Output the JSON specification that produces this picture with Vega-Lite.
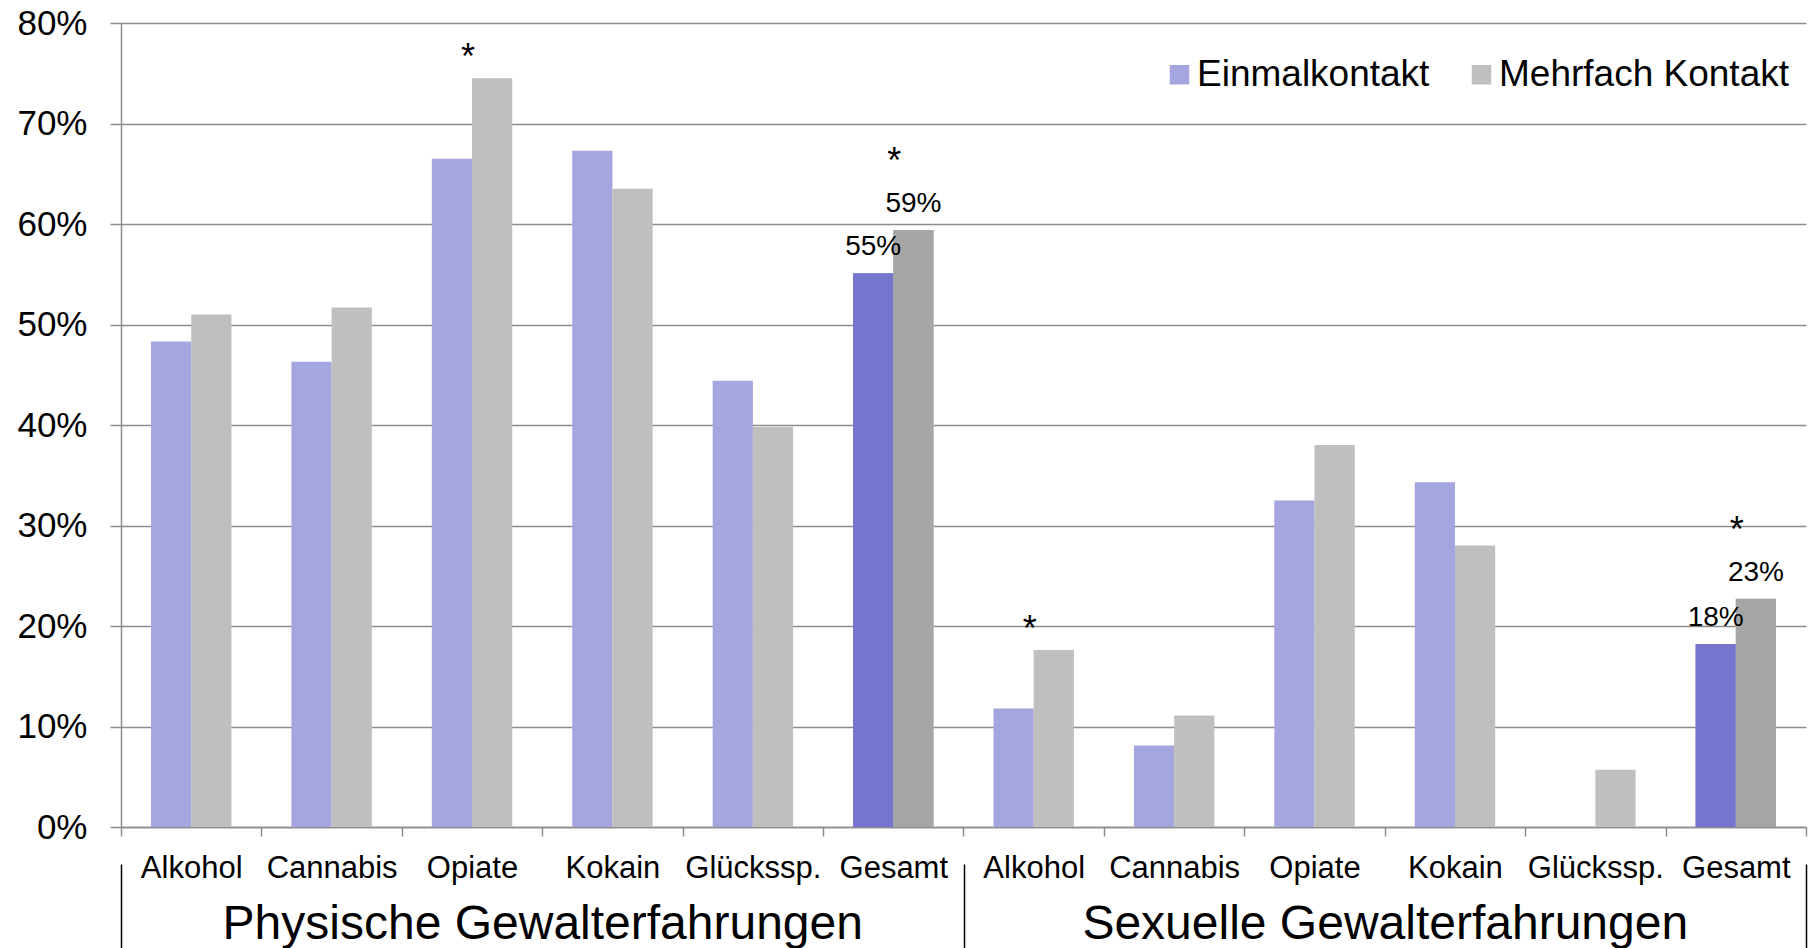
{
  "$schema": "https://vega.github.io/schema/vega-lite/v6.json",
  "width": 1685,
  "height": 804,
  "autosize": {"type": "none"},
  "padding": {"left": 121, "top": 23, "right": 10, "bottom": 121},
  "background": "white",
  "config": {"font": "Liberation Sans", "view": {"stroke": null}},
  "data": {
    "values": [
      {"gruppe": "Physische Gewalterfahrungen", "key": "P|Alkohol", "serie": "Einmalkontakt", "wert": 0.483, "sig": false},
      {"gruppe": "Physische Gewalterfahrungen", "key": "P|Alkohol", "serie": "Mehrfach Kontakt", "wert": 0.510, "sig": false},
      {"gruppe": "Physische Gewalterfahrungen", "key": "P|Cannabis", "serie": "Einmalkontakt", "wert": 0.463, "sig": false},
      {"gruppe": "Physische Gewalterfahrungen", "key": "P|Cannabis", "serie": "Mehrfach Kontakt", "wert": 0.517, "sig": false},
      {"gruppe": "Physische Gewalterfahrungen", "key": "P|Opiate", "serie": "Einmalkontakt", "wert": 0.665, "sig": true},
      {"gruppe": "Physische Gewalterfahrungen", "key": "P|Opiate", "serie": "Mehrfach Kontakt", "wert": 0.745, "sig": true},
      {"gruppe": "Physische Gewalterfahrungen", "key": "P|Kokain", "serie": "Einmalkontakt", "wert": 0.673, "sig": false},
      {"gruppe": "Physische Gewalterfahrungen", "key": "P|Kokain", "serie": "Mehrfach Kontakt", "wert": 0.635, "sig": false},
      {"gruppe": "Physische Gewalterfahrungen", "key": "P|Glückssp.", "serie": "Einmalkontakt", "wert": 0.444, "sig": false},
      {"gruppe": "Physische Gewalterfahrungen", "key": "P|Glückssp.", "serie": "Mehrfach Kontakt", "wert": 0.398, "sig": false},
      {"gruppe": "Physische Gewalterfahrungen", "key": "P|Gesamt", "serie": "Einmalkontakt", "wert": 0.551, "sig": true},
      {"gruppe": "Physische Gewalterfahrungen", "key": "P|Gesamt", "serie": "Mehrfach Kontakt", "wert": 0.594, "sig": true},
      {"gruppe": "Sexuelle Gewalterfahrungen", "key": "S|Alkohol", "serie": "Einmalkontakt", "wert": 0.118, "sig": true},
      {"gruppe": "Sexuelle Gewalterfahrungen", "key": "S|Alkohol", "serie": "Mehrfach Kontakt", "wert": 0.176, "sig": true},
      {"gruppe": "Sexuelle Gewalterfahrungen", "key": "S|Cannabis", "serie": "Einmalkontakt", "wert": 0.081, "sig": false},
      {"gruppe": "Sexuelle Gewalterfahrungen", "key": "S|Cannabis", "serie": "Mehrfach Kontakt", "wert": 0.111, "sig": false},
      {"gruppe": "Sexuelle Gewalterfahrungen", "key": "S|Opiate", "serie": "Einmalkontakt", "wert": 0.325, "sig": false},
      {"gruppe": "Sexuelle Gewalterfahrungen", "key": "S|Opiate", "serie": "Mehrfach Kontakt", "wert": 0.380, "sig": false},
      {"gruppe": "Sexuelle Gewalterfahrungen", "key": "S|Kokain", "serie": "Einmalkontakt", "wert": 0.343, "sig": false},
      {"gruppe": "Sexuelle Gewalterfahrungen", "key": "S|Kokain", "serie": "Mehrfach Kontakt", "wert": 0.280, "sig": false},
      {"gruppe": "Sexuelle Gewalterfahrungen", "key": "S|Glückssp.", "serie": "Einmalkontakt", "wert": 0, "sig": false},
      {"gruppe": "Sexuelle Gewalterfahrungen", "key": "S|Glückssp.", "serie": "Mehrfach Kontakt", "wert": 0.057, "sig": false},
      {"gruppe": "Sexuelle Gewalterfahrungen", "key": "S|Gesamt", "serie": "Einmalkontakt", "wert": 0.182, "sig": true},
      {"gruppe": "Sexuelle Gewalterfahrungen", "key": "S|Gesamt", "serie": "Mehrfach Kontakt", "wert": 0.227, "sig": true}
    ]
  },
  "layer": [
    {
      "layer": [
        {
          "mark": {"type": "bar"},
          "encoding": {
            "x": {
              "field": "key", "type": "nominal",
              "scale": {
                "domain": ["P|Alkohol", "P|Cannabis", "P|Opiate", "P|Kokain", "P|Glückssp.", "P|Gesamt", "S|Alkohol", "S|Cannabis", "S|Opiate", "S|Kokain", "S|Glückssp.", "S|Gesamt"],
                "paddingInner": 0, "paddingOuter": 0
              },
              "axis": {
                "title": null, "labelExpr": "substring(datum.label, 2)", "labelAngle": 0,
                "labelFontSize": 31, "labelColor": "black", "labelBaseline": "alphabetic", "labelPadding": 41,
                "labelOverlap": false, "labelLimit": 0,
                "tickBand": "extent", "tickSize": 9, "tickColor": "#8c8c8c", "tickWidth": 1.5,
                "domainColor": "#8c8c8c", "domainWidth": 1.5, "grid": false
              }
            },
            "xOffset": {
              "field": "serie", "type": "nominal",
              "scale": {"domain": ["Einmalkontakt", "Mehrfach Kontakt"], "paddingInner": 0, "paddingOuter": 0.746}
            },
            "y": {
              "field": "wert", "type": "quantitative",
              "scale": {"domain": [0, 0.8], "nice": false},
              "axis": {
                "values": [0, 0.1, 0.2, 0.3, 0.4, 0.5, 0.6, 0.7, 0.8], "format": ".0%", "title": null,
                "grid": true, "gridColor": "#8c8c8c", "gridWidth": 1.5,
                "domainColor": "#8c8c8c", "domainWidth": 1.5,
                "tickColor": "#8c8c8c", "tickSize": 11, "tickWidth": 1.5,
                "labelFontSize": 35, "labelColor": "black", "labelPadding": 23
              }
            },
            "color": {
              "field": "serie", "type": "nominal",
              "scale": {"domain": ["Einmalkontakt", "Mehrfach Kontakt"], "range": ["#A5A5DF", "#BFBFBF"]},
              "legend": {
                "orient": "none", "legendX": 1040, "legendY": 33, "direction": "horizontal", "columns": 2,
                "title": null, "symbolType": "square", "symbolSize": 380, "symbolStrokeWidth": 0, "symbolOpacity": 1,
                "labelFontSize": 37, "labelColor": "black", "labelOffset": -1, "columnPadding": 33,
                "labelLimit": 0, "padding": 0
              }
            }
          }
        },
        {
          "transform": [{"filter": "datum.key == 'P|Gesamt' || datum.key == 'S|Gesamt'"}],
          "mark": {"type": "bar"},
          "encoding": {
            "x": {"field": "key", "type": "nominal"},
            "xOffset": {"field": "serie", "type": "nominal"},
            "y": {"field": "wert", "type": "quantitative"},
            "fill": {
              "field": "serie", "type": "nominal",
              "scale": {"domain": ["Einmalkontakt", "Mehrfach Kontakt"], "range": ["#7575CF", "#A6A6A6"]},
              "legend": null
            }
          }
        },
        {
          "transform": [{"filter": "datum.key == 'P|Gesamt' || datum.key == 'S|Gesamt'"}],
          "mark": {"type": "text", "fontSize": 28, "baseline": "alphabetic", "dy": -18, "color": "black"},
          "encoding": {
            "x": {"field": "key", "type": "nominal"},
            "xOffset": {"field": "serie", "type": "nominal"},
            "y": {"field": "wert", "type": "quantitative"},
            "text": {"field": "wert", "type": "quantitative", "format": ".0%"}
          }
        },
        {
          "transform": [{"filter": "datum.sig && datum.serie == 'Mehrfach Kontakt' && datum.key != 'P|Gesamt' && datum.key != 'S|Gesamt'"}],
          "mark": {"type": "text", "fontSize": 36, "baseline": "alphabetic", "dy": -9, "dx": -4, "text": "*", "color": "black"},
          "encoding": {
            "x": {"field": "key", "type": "nominal"},
            "y": {"field": "wert", "type": "quantitative"}
          }
        },
        {
          "transform": [{"filter": "datum.sig && datum.serie == 'Mehrfach Kontakt' && (datum.key == 'P|Gesamt' || datum.key == 'S|Gesamt')"}],
          "mark": {"type": "text", "fontSize": 36, "baseline": "alphabetic", "dy": -57, "dx": 1, "text": "*", "color": "black"},
          "encoding": {
            "x": {"field": "key", "type": "nominal"},
            "y": {"field": "wert", "type": "quantitative"}
          }
        }
      ]
    },
    {
      "mark": {"type": "text", "text": ""},
      "encoding": {
        "x": {
          "field": "gruppe", "type": "nominal",
          "scale": {"domain": ["Physische Gewalterfahrungen", "Sexuelle Gewalterfahrungen"], "paddingInner": 0, "paddingOuter": 0},
          "axis": {
            "orient": "bottom", "offset": 37, "title": null, "domain": false,
            "tickBand": "extent", "tickSize": 84, "tickColor": "black", "tickWidth": 1.5,
            "labelFontSize": 48, "labelColor": "black", "labelBaseline": "alphabetic", "labelPadding": -10,
            "labelLimit": 0, "labelAngle": 0, "labelOverlap": false, "grid": false
          }
        }
      }
    }
  ],
  "resolve": {"scale": {"x": "independent"}, "axis": {"x": "independent"}}
}
